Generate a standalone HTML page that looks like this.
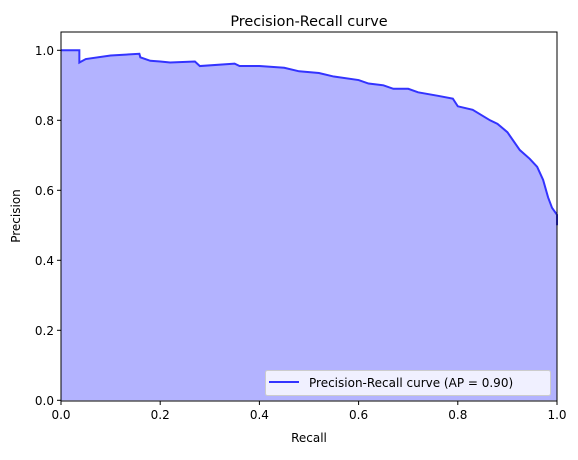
<!DOCTYPE html>
<html><head><meta charset="utf-8"><style>
body{margin:0;background:#fff;}
svg text{font-family:"DejaVu Sans","Liberation Sans",sans-serif;fill:#000;}
</style></head><body>
<svg id="chart" width="578" height="455" xmlns="http://www.w3.org/2000/svg">
<rect width="578" height="455" fill="#fff"/>
<g id="plot"></g>
<g id="axes"></g>
</svg>
<script>
const recall=[0,0.037,0.037,0.05,0.1,0.158,0.16,0.17,0.18,0.2,0.22,0.27,0.28,0.35,0.36,0.4,0.45,0.48,0.52,0.55,0.6,0.62,0.65,0.67,0.7,0.72,0.76,0.79,0.8,0.83,0.865,0.88,0.9,0.925,0.945,0.96,0.972,0.982,0.99,0.995,1.0,1.0];
const precision=[1.0,1.0,0.965,0.975,0.985,0.99,0.98,0.975,0.97,0.968,0.965,0.968,0.955,0.962,0.955,0.955,0.95,0.94,0.935,0.925,0.915,0.905,0.9,0.89,0.89,0.88,0.87,0.862,0.84,0.83,0.80,0.79,0.766,0.715,0.69,0.667,0.63,0.58,0.55,0.54,0.53,0.5];
const xTicks=[0,0.2,0.4,0.6,0.8,1.0];
const yTicks=[0,0.2,0.4,0.6,0.8,1.0];
const NS='http://www.w3.org/2000/svg';
const L=61,R=557,T=32,B=401;
const y0=400.3,y1=50.3;
const sx=v=>L+v*(R-L);
const sy=v=>y0+v*(y1-y0);
function mk(tag,attrs,parent){const e=document.createElementNS(NS,tag);for(const k in attrs)e.setAttribute(k,attrs[k]);parent.appendChild(e);return e;}
const plot=document.getElementById('plot'),axes=document.getElementById('axes');
let pts=recall.map((r,i)=>sx(r).toFixed(2)+','+sy(precision[i]).toFixed(2));
const area=mk('polygon',{points:pts.join(' ')+' '+sx(1)+','+sy(0)+' '+sx(0)+','+sy(0),fill:'#b3b3ff'},plot);


const line=mk('polyline',{points:pts.join(' '),fill:'none',stroke:'#3333ff','stroke-width':2,'stroke-linejoin':'miter'},plot);


const frame=mk('rect',{x:L,y:T,width:R-L,height:B-T,fill:'none',stroke:'#000','stroke-width':1},axes);


xTicks.forEach(v=>{
  const x=sx(v);
  mk('line',{x1:x,x2:x,y1:B,y2:B+4,stroke:'#000'},axes);
  const t=mk('text',{x:x,y:B+18,'text-anchor':'middle','font-size':12},axes);
  t.textContent=v.toFixed(1);
  
  
});
yTicks.forEach(v=>{
  const y=sy(v);
  mk('line',{x1:L-4,x2:L,y1:y,y2:y,stroke:'#000'},axes);
  const t=mk('text',{x:L-7,y:y+4.5,'text-anchor':'end','font-size':12},axes);
  t.textContent=v.toFixed(1);
  
  
});
</script>
<svg style="position:absolute;left:0;top:0" width="578" height="455" xmlns="http://www.w3.org/2000/svg">
<text x="309" y="26" text-anchor="middle" font-size="14.4">Precision-Recall curve</text>
<text x="309" y="442" text-anchor="middle" font-size="12">Recall</text>
<text x="20" y="216" text-anchor="middle" font-size="12" transform="rotate(-90 20 216)">Precision</text>
<g>
<rect x="265.5" y="370.5" width="285" height="25" rx="2" fill="#fff" fill-opacity="0.8" stroke="#ccc"/>
<line x1="269" y1="382" x2="299" y2="382" stroke="#3333ff" stroke-width="2"/>
<text x="309" y="387" font-size="12">Precision-Recall curve (AP = 0.90)</text>
</g>
</svg>
</body></html>
